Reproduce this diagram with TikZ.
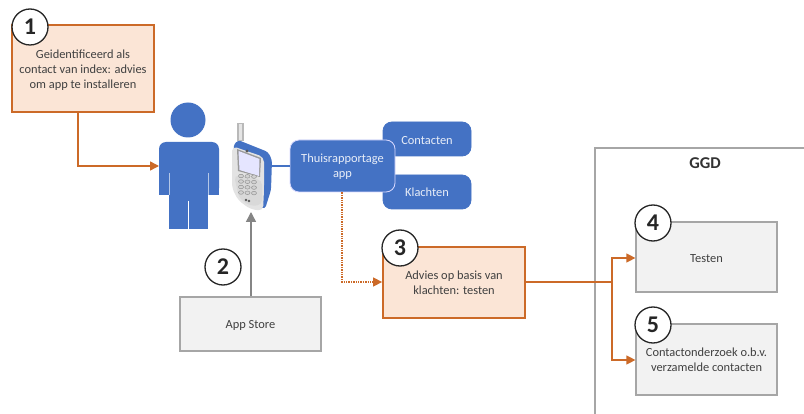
\documentclass[tikz,border=0pt]{standalone}
\usepackage{fontspec}
\setmainfont{Carlito}
\usetikzlibrary{arrows.meta,calc}
\definecolor{org}{HTML}{CC6A28}
\definecolor{orgfill}{HTML}{FBE5D6}
\definecolor{blu}{HTML}{4472C4}
\definecolor{gline}{HTML}{A6A6A6}
\definecolor{gfill}{HTML}{F2F2F2}
\definecolor{txt}{HTML}{404040}
\tikzset{
  x=1pt,y=1pt,
  every node/.style={font=\fontsize{12.4}{15}\selectfont,text=txt,align=center,inner sep=0pt},
  orangebox/.style={draw=org,fill=orgfill,line width=1.8pt,minimum width=#1},
  graybox/.style={draw=gline,fill=gfill,line width=1.2pt,minimum width=#1},
  bluebox/.style={fill=blu,draw=#1,line width=0.8pt,rounded corners=9pt},
  whitetext/.style={text=white!88!blu},
  numcircle/.style={circle,draw=black!85,fill=white,line width=1.3pt,minimum size=36pt,font=\fontsize{24}{24}\bfseries\selectfont,text=black!85},
  orangearrow/.style={draw=org,line width=1.5pt,-{Triangle[length=9pt,width=9pt]}},
  grayarrow/.style={draw=gline!80!black,line width=1.5pt,-{Triangle[length=10pt,width=10pt]}},
}
\begin{document}
\begin{tikzpicture}
\useasboundingbox (0,0) rectangle (804,-414);
\fill[white] (0,0) rectangle (804,-414);
% GGD frame
\coordinate (ggdbl) at (595,-414);
\coordinate (ggdtl) at (595,-148);
\coordinate (ggdtr) at (804,-148);
\draw[gline,line width=1.2pt] (ggdbl) -- (ggdtl) -- (ggdtr);
\node[font=\fontsize{16.5}{18}\bfseries\selectfont,text=black!80] (ggd) at (705,-163) {GGD};
% boxes
\node[orangebox=142pt,minimum height=87pt] (b1) at (83,-68.5) {};
\node (t1) at (83,-70) {Geidentificeerd als\\contact van index: advies\\om app te installeren};
\node[orangebox=142pt,minimum height=71pt] (b3) at (454,-282.5) {};
\node (t3) at (454,-282.5) {Advies op basis van\\klachten: testen};
\node[graybox=141pt,minimum height=54pt] (store) at (250.5,-324) {};
\node (t2) at (250.5,-325.5) {App Store};
\node[graybox=141pt,minimum height=70pt] (b4) at (706.5,-257) {};
\node (t4) at (706.5,-258.5) {Testen};
\node[graybox=141pt,minimum height=71pt] (b5) at (706.5,-359.5) {};
\node (t5) at (706.5,-360) {Contactonderzoek o.b.v.\\verzamelde contacten};
% blue boxes
\node[bluebox=blu,minimum width=88pt,minimum height=34pt] (cont) at (427,-139) {};
\node[whitetext] (t6) at (427,-140.5) {Contacten};
\node[bluebox=blu,minimum width=88pt,minimum height=34pt] (klach) at (427,-192) {};
\node[whitetext] (t7) at (427,-192) {Klachten};
\node[bluebox=blue!15!white,minimum width=105pt,minimum height=52pt] (appn) at (342.5,-166) {};
\node[whitetext] (t8) at (342.5,-167) {Thuisrapportage\\app};
% person
\fill[blu] (188,-120) circle (17.5);
\fill[blu,rounded corners=7pt] (159,-195) -- (159,-142) -- (219,-142) -- (219,-195) -- cycle;
\fill[blu] (159,-185) rectangle (219,-195);
\fill[blu] (169,-190) rectangle (208,-229);
\draw[white,line width=0.5pt] (188.5,-201) -- (188.5,-229);
\draw[white!60!blu,line width=0.5pt] (169,-173) -- (169,-195) (208,-173) -- (208,-195);
\coordinate (personw) at (159,-166);
% phone
\fill[gray!55] (237,-123) rectangle (244,-141);
\fill[gray!20] (239,-124) rectangle (242,-140);
% blue shell
\fill[blu,rounded corners=3pt] (233,-146) -- (238,-140) -- (268,-152) -- (272,-160) -- (271,-190) -- (265,-209) -- (255,-205) -- cycle;
% grey face
\fill[gray!22,rounded corners=5pt] (232,-146) -- (264,-157) -- (264,-190) -- (263,-211) -- (250,-209) -- (238,-200) -- (232,-188) -- cycle;
\fill[white!70!gray,rounded corners=5pt] (234,-175) -- (262,-180) -- (262,-205) -- (250,-206) -- (239,-198) -- cycle;
% screen
\fill[black!40] (237,-149) -- (261,-158) -- (260,-177) -- (238,-171) -- cycle;
\fill[blue!10!white] (238.5,-151) -- (259.5,-159) -- (259,-176) -- (239.5,-170) -- cycle;
\fill[black!65] (247,-151) circle (1.7);
\foreach \r in {0,1,2,3}{\foreach \c in {0,1,2}{
  \draw[gray!85,line width=0.5pt,fill=gray!35] ({241+\c*6.5},{-176-\r*5.5-\c*0.3}) ellipse (2.5 and 1.8);}}
\fill[gray!70!black] (246,-200) circle (1.4) (249,-201) circle (1.4);
\coordinate (phoner) at (272,-166);
\coordinate (phoneb) at (251,-212);
% connectors
\draw[blu,line width=2.2pt] (phoner) -- (appn.west);
\coordinate (c1) at (78,-166);
\draw[orangearrow] (b1.south -| c1) -- (c1) -- (personw);
\draw[grayarrow] (store.north -| phoneb) -- (phoneb);
\coordinate (c3) at (342,-282);
\draw[org,line width=1.4pt,densely dotted,-{Triangle[length=9pt,width=9pt,fill=org]}] (appn.south -| c3) -- (c3) -- (b3.west |- c3);
\coordinate (j) at (612,-282);
\draw[org,line width=1.2pt] (b3.east |- j) -- (j);
\coordinate (j4) at (612,-258);
\coordinate (j5) at (612,-360);
\draw[orangearrow,line width=1.2pt] (j) -- (j4) -- (b4.west |- j4);
\draw[orangearrow,line width=1.2pt] (j) -- (j5) -- (b5.west |- j5);
% number circles
\node[numcircle] (n1) at (30,-27) {1};
\node[numcircle] (n2) at (223,-267) {2};
\node[numcircle] (n3) at (400,-248) {3};
\node[numcircle] (n4) at (653,-223) {4};
\node[numcircle] (n5) at (653,-325) {5};
\end{tikzpicture}
\end{document}
